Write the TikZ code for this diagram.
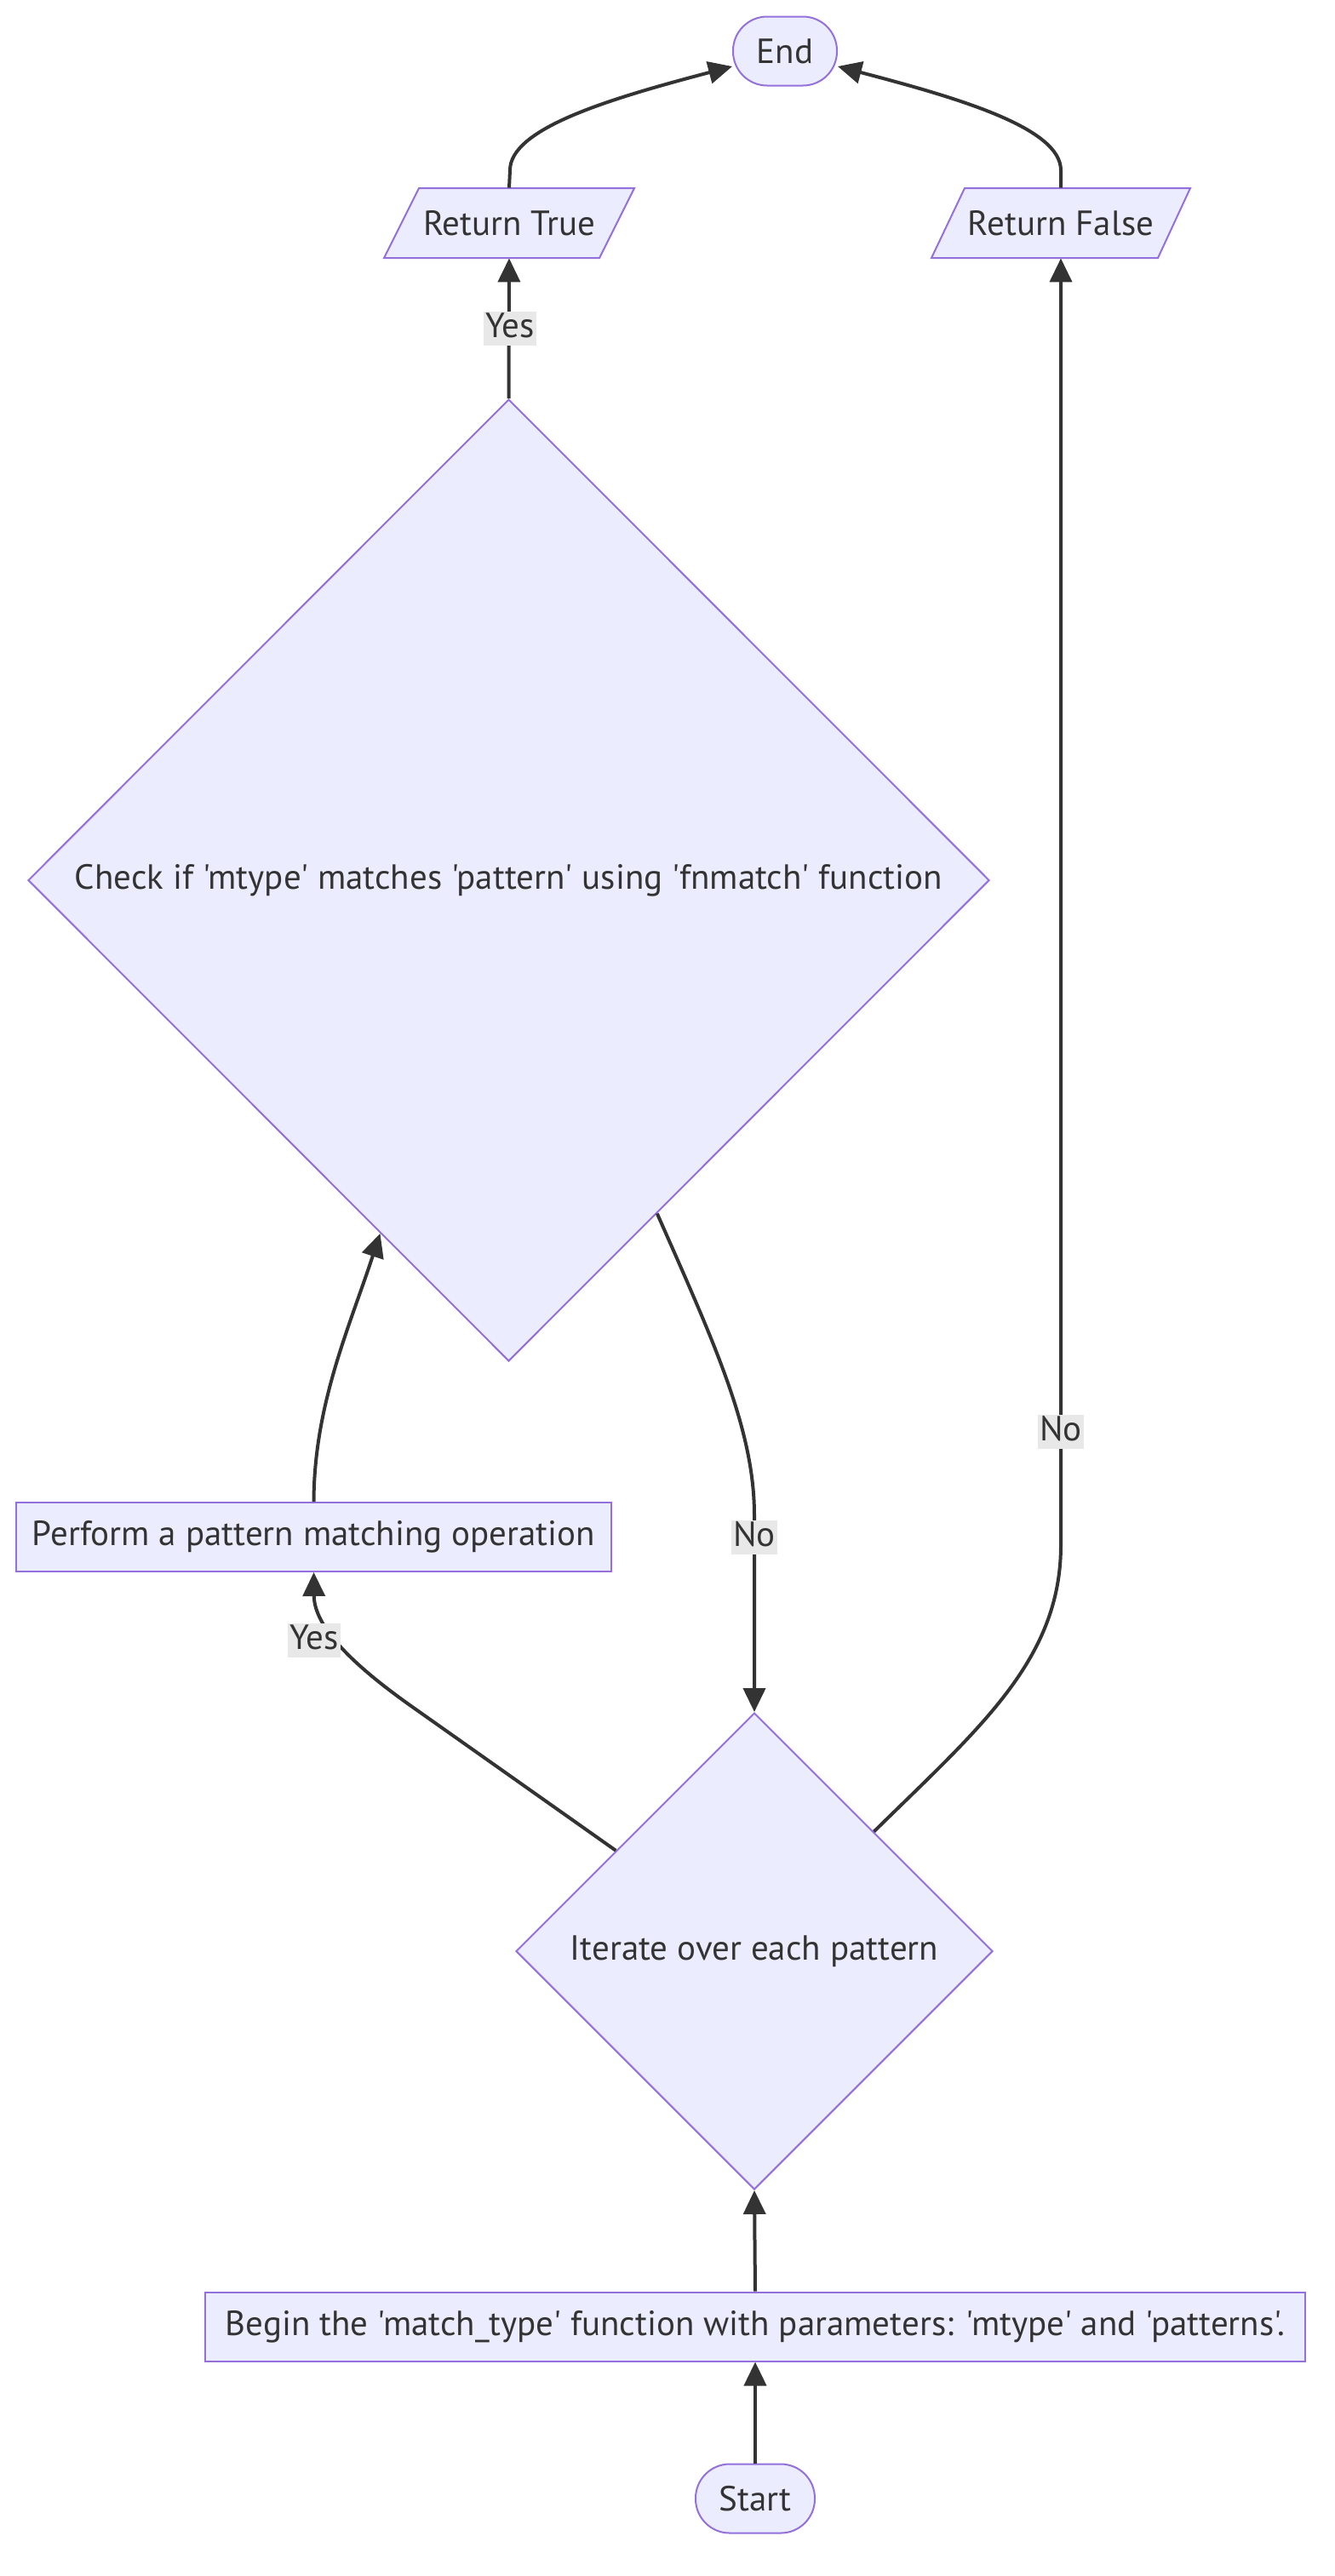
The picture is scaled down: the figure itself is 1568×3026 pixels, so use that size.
\documentclass[tikz,border=0pt]{standalone}
\usepackage{fontspec}
\setmainfont{PT Sans}[Ligatures=TeXOff]
\usetikzlibrary{shapes.geometric,arrows.meta}
\definecolor{nodefill}{HTML}{ECECFF}
\definecolor{nodeline}{HTML}{9370DB}
\definecolor{edgecol}{HTML}{333333}
\definecolor{lblbg}{HTML}{E8E8E8}
\definecolor{txt}{HTML}{333333}
\begin{document}
\begin{tikzpicture}[x=0.5pt,y=-0.5pt,
  every node/.style={font=\fontsize{20.5}{24}\selectfont, text=txt},
  box/.style={draw=nodeline, fill=nodefill, line width=1pt, minimum height=40.5pt, inner sep=0pt},
  term/.style={box, rounded corners=20pt},
  para/.style={draw=nodeline, fill=nodefill, line width=1pt},
  dec/.style={diamond, draw=nodeline, fill=nodefill, line width=1pt, inner sep=0pt, shape aspect=1},
  edge/.style={draw=edgecol, line width=2pt, -{Triangle[length=14pt,width=13pt]}},
  lbl/.style={fill=lblbg, inner sep=1pt, text height=14pt, text depth=4pt}
]
\useasboundingbox (0,0) rectangle (1568,3026);

% nodes
\node[term, minimum width=61pt] (end) at (922,60) {End};

\filldraw[para] (492,221) -- (745,221) -- (704,303) -- (451,303) -- cycle;
\node[minimum width=126pt, minimum height=41pt, inner sep=0pt] (rt) at (598,262) {Return True};

\filldraw[para] (1133,221) -- (1398,221) -- (1360,303) -- (1094,303) -- cycle;
\node[minimum width=132pt, minimum height=41pt, inner sep=0pt] (rf) at (1246,262) {Return False};

\node[dec, minimum width=564.5pt, minimum height=565pt] (chk) at (597.5,1034) {Check if 'mtype' matches 'pattern' using 'fnmatch' function};

\node[box, minimum width=349.5pt] (perf) at (368.5,1805.5) {Perform a pattern matching operation};

\node[dec, minimum width=280pt, minimum height=280pt] (it) at (886,2292) {Iterate over each pattern};

\node[box, minimum width=646pt] (begin) at (887,2733) {Begin the 'match\_type' function with parameters: 'mtype' and 'patterns'.};

\node[term, minimum width=70pt] (start) at (887,2935) {Start};

% helper coordinates
\coordinate (endL) at ([yshift=-9pt]end.west);
\coordinate (endR) at ([yshift=-9pt]end.east);

% edges
\draw[edge] (start.north) -- (begin.south);
\draw[edge] (begin.north) -- (it.south);
\draw[edge] (it.144) -- (480,2002) .. controls (400,1945) and (369,1905) .. (perf.south);
\draw[edge] (perf.north) .. controls (369,1650) and (410,1560) .. (chk.250);
\draw[edge] (chk.294) .. controls (840,1580) and (886,1680) .. (886,1780) -- (it.north);
\draw[edge] (it.45) .. controls (1150,2030) and (1246,1950) .. (1246,1815) -- (rf.south);
\draw[edge] (chk.north) -- (rt.south);
\draw[edge] (rt.north) -- (599,200) .. controls (599,150) and (720,115) .. (endL);
\draw[edge] (rf.north) -- (1246,200) .. controls (1246,150) and (1125,115) .. (endR);

% labels
\node[lbl] (l1) at (599,386) {Yes};
\node[lbl] (l2) at (369,1927) {Yes};
\node[lbl] (l3) at (886,1806) {No};
\node[lbl] (l4) at (1246,1682) {No};
\end{tikzpicture}
\end{document}
